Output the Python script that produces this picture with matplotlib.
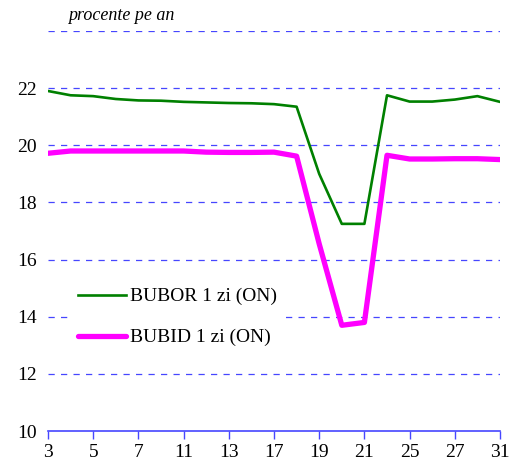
import matplotlib
matplotlib.use("Agg")
import matplotlib.pyplot as plt

# --- data (business days of the month) ---
days = [3, 4, 5, 6, 7, 10, 11, 12, 13, 14, 17, 18, 19, 20, 21, 24, 25, 26, 27, 28, 31]
bubor = [21.90, 21.75, 21.72, 21.62, 21.57, 21.56, 21.52, 21.50, 21.48, 21.47, 21.44, 21.35,
         19.00, 17.25, 17.25, 21.75, 21.53, 21.53, 21.60, 21.72, 21.52]
bubid = [19.72, 19.80, 19.80, 19.80, 19.80, 19.80, 19.80, 19.76, 19.75, 19.75, 19.76, 19.62,
         16.55, 13.70, 13.80, 19.65, 19.52, 19.52, 19.53, 19.53, 19.50]
labels = ["BUBOR 1 zi (ON)", "BUBID 1 zi (ON)"]
ylab = "procente pe an"

# --- fonts ---
FONT = 14
plt.rcParams['font.family'] = ['Liberation Serif', 'DejaVu Serif']
GRID_COL = '#4646ff'

fig = plt.figure(figsize=(5.09, 4.65), dpi=100)
ax = fig.add_axes([48 / 509, 1 - 431 / 465, 452 / 509, 400 / 465])

x = list(range(len(days)))
ax.plot(x, bubor, color='#008000', lw=1.9, label=labels[0], zorder=3)
ax.plot(x, bubid, color='#ff00ff', lw=3.8, label=labels[1], zorder=3, solid_capstyle='round')

ax.set_xlim(0, len(days) - 1)
ax.set_ylim(10, 24)
ax.set_yticks(range(10, 25, 2))
ax.set_yticklabels([str(v) for v in range(10, 23, 2)] + [''])
for v in range(12, 25, 2):
    ax.axhline(v, color=GRID_COL, lw=0.9, dashes=(5, 5), zorder=1)

ax.set_xticks(x[::2])
ax.set_xticklabels([str(d) for d in days[::2]])
ax.tick_params(axis='x', colors=GRID_COL, length=6, width=1, labelcolor='black',
               labelsize=FONT, pad=3)
ax.tick_params(axis='y', length=0, labelsize=FONT, pad=8)

for s in ['left', 'right', 'top']:
    ax.spines[s].set_visible(False)
ax.spines['bottom'].set_color(GRID_COL)
ax.spines['bottom'].set_linewidth(1.2)

fig.text(68 / 509, 1 - 16 / 465, ylab, fontsize=13, style='italic', va='center', ha='left')

leg = ax.legend(loc='upper left', bbox_to_anchor=(22 / 452, (431 - 280) / 400),
                frameon=True, fontsize=FONT, handlelength=2.5, handletextpad=0.2,
                labelspacing=1.2, borderpad=0.4, borderaxespad=0)
leg.get_frame().set_edgecolor('none')
leg.get_frame().set_facecolor('white')
leg.get_frame().set_alpha(1)
leg.set_zorder(2)

fig.savefig('out.png', dpi=100)
